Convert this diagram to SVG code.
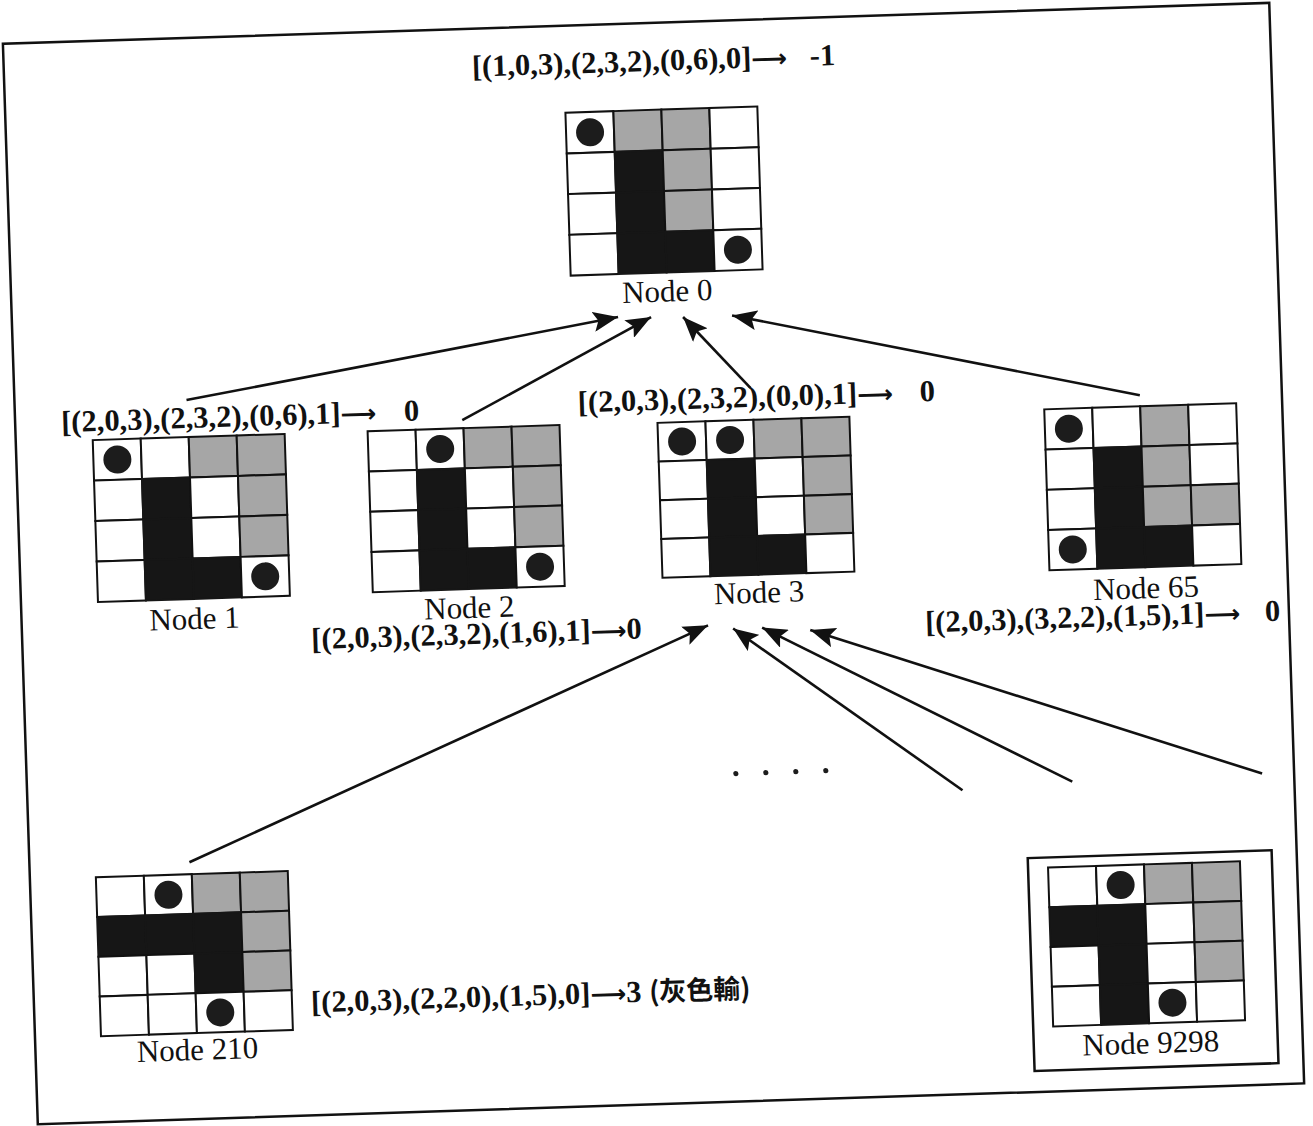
<svg xmlns="http://www.w3.org/2000/svg" width="1313" height="1126" viewBox="0 0 1313 1126">
  <style>
    .w { fill: #ffffff; stroke: #111; stroke-width: 2; }
    .g { fill: #a6a6a6; stroke: #111; stroke-width: 2; }
    .k { fill: #161616; stroke: #161616; stroke-width: 2; }
    .dot { fill: #1c1c1c; }
    .name { font-family: "Liberation Serif", "Times New Roman", serif; font-size: 31px; fill: #111; text-anchor: middle; }
    .state { font-family: "Liberation Serif", "Times New Roman", "Noto Sans CJK TC", serif; font-size: 30.5px; font-weight: bold; fill: #111; }
    .arr { font-family: "DejaVu Sans", sans-serif; font-size: 25px; font-weight: bold; }
    .cjk { font-family: "Noto Sans CJK TC", sans-serif; font-weight: bold; font-size: 27px; }
    .edge { stroke: #111; stroke-width: 2.6; fill: none; marker-end: url(#head); }
    .frame { fill: none; stroke: #111; stroke-width: 2.5; }
  </style>
  <defs>
    <marker id="head" markerUnits="userSpaceOnUse" markerWidth="26" markerHeight="20" refX="25" refY="10" orient="auto">
      <path d="M0,0 L25,10 L0,20 L5,10 z" fill="#111"/>
    </marker>
  </defs>
  <rect width="1313" height="1126" fill="#ffffff"/>
  <g transform="rotate(-1.85 656 563)">
    <rect class="frame" x="20" y="23" width="1267" height="1081"/>

    <!-- search tree connectors: children point to parents -->
    <g id="connectors">
      <line class="edge" x1="192" y1="385" x2="626" y2="316"/>
      <line class="edge" x1="467" y1="414" x2="659" y2="317"/>
      <line class="edge" x1="756" y1="391" x2="691" y2="318"/>
      <line class="edge" x1="1145" y1="411" x2="740" y2="318"/>
      <line class="edge" x1="180" y1="847" x2="706" y2="627"/>
      <line class="edge" x1="955" y1="800" x2="731" y2="631"/>
      <line class="edge" x1="1065" y1="795" x2="760" y2="631"/>
      <line class="edge" x1="1255" y1="793" x2="808" y2="635"/>
    </g>

    <g id="node0" transform="translate(580,110)">
      <rect class="w" x="0" y="0" width="48" height="40.75"/>
      <rect class="g" x="48" y="0" width="48" height="40.75"/>
      <rect class="g" x="96" y="0" width="48" height="40.75"/>
      <rect class="w" x="144" y="0" width="48" height="40.75"/>
      <rect class="w" x="0" y="40.75" width="48" height="40.75"/>
      <rect class="k" x="48" y="40.75" width="48" height="40.75"/>
      <rect class="g" x="96" y="40.75" width="48" height="40.75"/>
      <rect class="w" x="144" y="40.75" width="48" height="40.75"/>
      <rect class="w" x="0" y="81.5" width="48" height="40.75"/>
      <rect class="k" x="48" y="81.5" width="48" height="40.75"/>
      <rect class="g" x="96" y="81.5" width="48" height="40.75"/>
      <rect class="w" x="144" y="81.5" width="48" height="40.75"/>
      <rect class="w" x="0" y="122.25" width="48" height="40.75"/>
      <rect class="k" x="48" y="122.25" width="48" height="40.75"/>
      <rect class="k" x="96" y="122.25" width="48" height="40.75"/>
      <rect class="w" x="144" y="122.25" width="48" height="40.75"/>
      <circle class="dot" cx="24" cy="20.4" r="14"/>
      <circle class="dot" cx="168" cy="142.6" r="14"/>
      <text class="name" x="96" y="192">Node 0</text>
    </g>

    <g id="node1" transform="translate(97,422)">
      <rect class="w" x="0" y="0" width="48" height="40.5"/>
      <rect class="w" x="48" y="0" width="48" height="40.5"/>
      <rect class="g" x="96" y="0" width="48" height="40.5"/>
      <rect class="g" x="144" y="0" width="48" height="40.5"/>
      <rect class="w" x="0" y="40.5" width="48" height="40.5"/>
      <rect class="k" x="48" y="40.5" width="48" height="40.5"/>
      <rect class="w" x="96" y="40.5" width="48" height="40.5"/>
      <rect class="g" x="144" y="40.5" width="48" height="40.5"/>
      <rect class="w" x="0" y="81" width="48" height="40.5"/>
      <rect class="k" x="48" y="81" width="48" height="40.5"/>
      <rect class="w" x="96" y="81" width="48" height="40.5"/>
      <rect class="g" x="144" y="81" width="48" height="40.5"/>
      <rect class="w" x="0" y="121.5" width="48" height="40.5"/>
      <rect class="k" x="48" y="121.5" width="48" height="40.5"/>
      <rect class="k" x="96" y="121.5" width="48" height="40.5"/>
      <rect class="w" x="144" y="121.5" width="48" height="40.5"/>
      <circle class="dot" cx="24" cy="20.25" r="14"/>
      <circle class="dot" cx="168" cy="141.75" r="14"/>
      <text class="name" x="96" y="192">Node 1</text>
    </g>

    <g id="node2" transform="translate(372,422)">
      <rect class="w" x="0" y="0" width="48" height="40.25"/>
      <rect class="w" x="48" y="0" width="48" height="40.25"/>
      <rect class="g" x="96" y="0" width="48" height="40.25"/>
      <rect class="g" x="144" y="0" width="48" height="40.25"/>
      <rect class="w" x="0" y="40.25" width="48" height="40.25"/>
      <rect class="k" x="48" y="40.25" width="48" height="40.25"/>
      <rect class="w" x="96" y="40.25" width="48" height="40.25"/>
      <rect class="g" x="144" y="40.25" width="48" height="40.25"/>
      <rect class="w" x="0" y="80.5" width="48" height="40.25"/>
      <rect class="k" x="48" y="80.5" width="48" height="40.25"/>
      <rect class="w" x="96" y="80.5" width="48" height="40.25"/>
      <rect class="g" x="144" y="80.5" width="48" height="40.25"/>
      <rect class="w" x="0" y="120.75" width="48" height="40.25"/>
      <rect class="k" x="48" y="120.75" width="48" height="40.25"/>
      <rect class="k" x="96" y="120.75" width="48" height="40.25"/>
      <rect class="w" x="144" y="120.75" width="48" height="40.25"/>
      <circle class="dot" cx="72" cy="20.1" r="14"/>
      <circle class="dot" cx="168" cy="140.9" r="14"/>
      <text class="name" x="96" y="190">Node 2</text>
    </g>

    <g id="node3" transform="translate(662,423)">
      <rect class="w" x="0" y="0" width="48" height="38.75"/>
      <rect class="w" x="48" y="0" width="48" height="38.75"/>
      <rect class="g" x="96" y="0" width="48" height="38.75"/>
      <rect class="g" x="144" y="0" width="48" height="38.75"/>
      <rect class="w" x="0" y="38.75" width="48" height="38.75"/>
      <rect class="k" x="48" y="38.75" width="48" height="38.75"/>
      <rect class="w" x="96" y="38.75" width="48" height="38.75"/>
      <rect class="g" x="144" y="38.75" width="48" height="38.75"/>
      <rect class="w" x="0" y="77.5" width="48" height="38.75"/>
      <rect class="k" x="48" y="77.5" width="48" height="38.75"/>
      <rect class="w" x="96" y="77.5" width="48" height="38.75"/>
      <rect class="g" x="144" y="77.5" width="48" height="38.75"/>
      <rect class="w" x="0" y="116.25" width="48" height="38.75"/>
      <rect class="k" x="48" y="116.25" width="48" height="38.75"/>
      <rect class="k" x="96" y="116.25" width="48" height="38.75"/>
      <rect class="w" x="144" y="116.25" width="48" height="38.75"/>
      <circle class="dot" cx="24" cy="19.4" r="14"/>
      <circle class="dot" cx="72" cy="19.4" r="14"/>
      <text class="name" x="96" y="183">Node 3</text>
    </g>

    <g id="node65" transform="translate(1049,422)">
      <rect class="w" x="0" y="0" width="48" height="40.25"/>
      <rect class="w" x="48" y="0" width="48" height="40.25"/>
      <rect class="g" x="96" y="0" width="48" height="40.25"/>
      <rect class="w" x="144" y="0" width="48" height="40.25"/>
      <rect class="w" x="0" y="40.25" width="48" height="40.25"/>
      <rect class="k" x="48" y="40.25" width="48" height="40.25"/>
      <rect class="g" x="96" y="40.25" width="48" height="40.25"/>
      <rect class="w" x="144" y="40.25" width="48" height="40.25"/>
      <rect class="w" x="0" y="80.5" width="48" height="40.25"/>
      <rect class="k" x="48" y="80.5" width="48" height="40.25"/>
      <rect class="g" x="96" y="80.5" width="48" height="40.25"/>
      <rect class="g" x="144" y="80.5" width="48" height="40.25"/>
      <rect class="w" x="0" y="120.75" width="48" height="40.25"/>
      <rect class="k" x="48" y="120.75" width="48" height="40.25"/>
      <rect class="k" x="96" y="120.75" width="48" height="40.25"/>
      <rect class="w" x="144" y="120.75" width="48" height="40.25"/>
      <circle class="dot" cx="24" cy="20.1" r="14"/>
      <circle class="dot" cx="24" cy="140.9" r="14"/>
      <text class="name" x="96" y="192">Node 65</text>
    </g>

    <g id="node210" transform="translate(86,859)">
      <rect class="w" x="0" y="0" width="48" height="39.75"/>
      <rect class="w" x="48" y="0" width="48" height="39.75"/>
      <rect class="g" x="96" y="0" width="48" height="39.75"/>
      <rect class="g" x="144" y="0" width="48" height="39.75"/>
      <rect class="k" x="0" y="39.75" width="48" height="39.75"/>
      <rect class="k" x="48" y="39.75" width="48" height="39.75"/>
      <rect class="k" x="96" y="39.75" width="48" height="39.75"/>
      <rect class="g" x="144" y="39.75" width="48" height="39.75"/>
      <rect class="w" x="0" y="79.5" width="48" height="39.75"/>
      <rect class="w" x="48" y="79.5" width="48" height="39.75"/>
      <rect class="k" x="96" y="79.5" width="48" height="39.75"/>
      <rect class="g" x="144" y="79.5" width="48" height="39.75"/>
      <rect class="w" x="0" y="119.25" width="48" height="39.75"/>
      <rect class="w" x="48" y="119.25" width="48" height="39.75"/>
      <rect class="w" x="96" y="119.25" width="48" height="39.75"/>
      <rect class="w" x="144" y="119.25" width="48" height="39.75"/>
      <circle class="dot" cx="72" cy="19.9" r="14"/>
      <circle class="dot" cx="120" cy="139.1" r="14"/>
      <text class="name" x="96" y="186">Node 210</text>
    </g>

    <g id="node9298" transform="translate(1038,880)">
      <rect class="frame" x="-20" y="-10" width="244" height="213"/>
      <rect class="w" x="0" y="0" width="48" height="39.75"/>
      <rect class="w" x="48" y="0" width="48" height="39.75"/>
      <rect class="g" x="96" y="0" width="48" height="39.75"/>
      <rect class="g" x="144" y="0" width="48" height="39.75"/>
      <rect class="k" x="0" y="39.75" width="48" height="39.75"/>
      <rect class="k" x="48" y="39.75" width="48" height="39.75"/>
      <rect class="w" x="96" y="39.75" width="48" height="39.75"/>
      <rect class="g" x="144" y="39.75" width="48" height="39.75"/>
      <rect class="w" x="0" y="79.5" width="48" height="39.75"/>
      <rect class="k" x="48" y="79.5" width="48" height="39.75"/>
      <rect class="w" x="96" y="79.5" width="48" height="39.75"/>
      <rect class="g" x="144" y="79.5" width="48" height="39.75"/>
      <rect class="w" x="0" y="119.25" width="48" height="39.75"/>
      <rect class="k" x="48" y="119.25" width="48" height="39.75"/>
      <rect class="w" x="96" y="119.25" width="48" height="39.75"/>
      <rect class="w" x="144" y="119.25" width="48" height="39.75"/>
      <circle class="dot" cx="72" cy="19.9" r="14"/>
      <circle class="dot" cx="120" cy="139.1" r="14"/>
      <text class="name" x="97" y="189">Node 9298</text>
    </g>

    <!-- state vectors and their values -->
    <g id="states">
      <text class="state" x="488" y="71">[(1,0,3),(2,3,2),(0,6),0]<tspan class="arr">⟶</tspan><tspan x="826">-1</tspan></text>
      <text class="state" x="66" y="413">[(2,0,3),(2,3,2),(0,6),1]<tspan class="arr">⟶</tspan><tspan x="409">0</tspan></text>
      <text class="state" x="309" y="638">[(2,0,3),(2,3,2),(1,6),1]<tspan class="arr">⟶</tspan>0</text>
      <text class="state" x="583" y="410">[(2,0,3),(2,3,2),(0,0),1]<tspan class="arr">⟶</tspan><tspan x="925">0</tspan></text>
      <text class="state" x="923" y="641">[(2,0,3),(3,2,2),(1,5),1]<tspan class="arr">⟶</tspan><tspan x="1263">0</tspan></text>
      <text class="state" x="297" y="1001">[(2,0,3),(2,2,0),(1,5),0]<tspan class="arr">⟶</tspan>3 <tspan class="cjk">(灰色輸)</tspan></text>
    </g>

    <!-- ellipsis for omitted children -->
    <g id="ellipsis" class="dot">
      <circle cx="729" cy="776" r="2.6"/>
      <circle cx="759" cy="776" r="2.6"/>
      <circle cx="789" cy="776" r="2.6"/>
      <circle cx="819" cy="776" r="2.6"/>
    </g>
  </g>
</svg>
